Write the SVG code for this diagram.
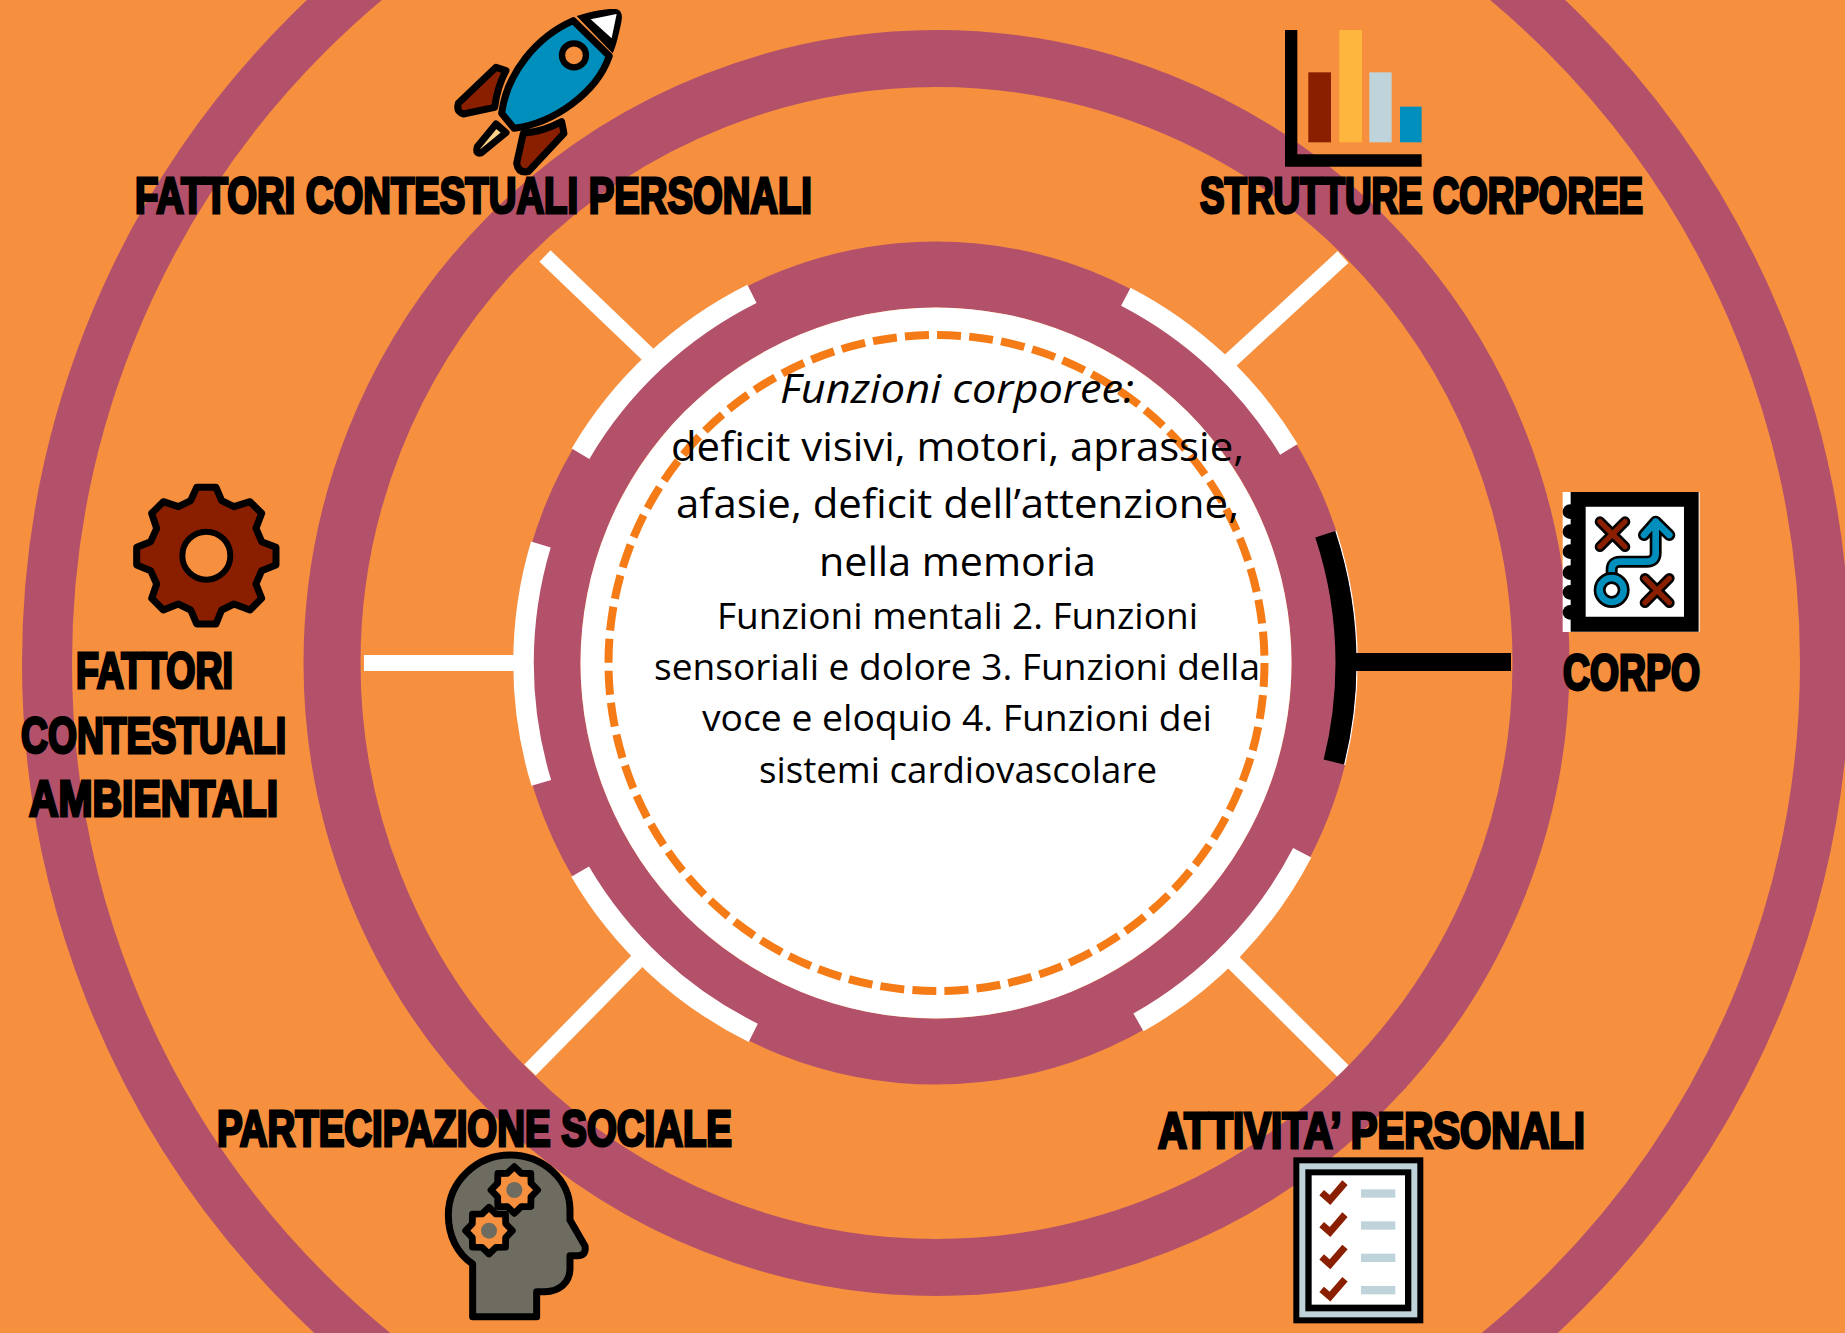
<svg xmlns="http://www.w3.org/2000/svg" xmlns:xlink="http://www.w3.org/1999/xlink" width="1845" height="1333" viewBox="0 0 1845 1333">
<style>
.ring{fill:none;stroke:#B3516B}
.arc{fill:none;stroke:#fff;stroke-width:20.5}
.spoke{stroke:#fff;stroke-width:16;fill:none}
.lab{font-family:"Liberation Sans",Arial,sans-serif;font-weight:700;font-size:50px;fill:#000;stroke:#000;stroke-width:3px}
.t1{font-family:"Open Sans","Liberation Sans",sans-serif;font-size:41px;fill:#000}
.t2{font-family:"Open Sans","Liberation Sans",sans-serif;font-size:36px;fill:#000}
.ol{stroke:#000;stroke-width:21;stroke-linejoin:round;stroke-linecap:round}
.red{fill:#8A1F00}
.blue{fill:#008FBD}
.pale{fill:#BFD3DA}
</style>
<defs>
<polygon id="minigear" points="62,0 44.3,18.4 43.8,43.8 18.4,44.3 0,62 -18.4,44.3 -43.8,43.8 -44.3,18.4 -62,0 -44.3,-18.4 -43.8,-43.8 -18.4,-44.3 0,-62 18.4,-44.3 43.8,-43.8 44.3,-18.4" fill="#F6903F" stroke="#000" stroke-width="18" stroke-linejoin="round"/>
<g id="check"><path d="M125 158L150 180L195 128" fill="none" stroke="#8A1F00" stroke-width="21"/><rect x="243" y="148" width="103" height="25" class="pale"/></g>
</defs>
<rect id="background" width="1845" height="1333" fill="#F6903F"/>
<g id="connectors">
<path class="spoke" d="M545 256L660 366"/>
<path class="spoke" d="M1343 257L1220 370"/>
<path class="spoke" d="M530 1070L650 948"/>
<path class="spoke" d="M1343 1071L1222 951"/>
<path class="spoke" d="M364 663L530 663"/>
</g>
<g id="rings">
<circle class="ring" cx="936" cy="663" r="889" stroke-width="50"/>
<circle class="ring" cx="936.5" cy="663" r="604.5" stroke-width="57"/>
<circle class="ring" cx="936" cy="663" r="388.5" stroke-width="66"/>
<g id="arcs">
<circle class="arc" cx="936" cy="663" r="412.5" pathLength="360" stroke-dasharray="33 327" stroke-dashoffset="-210.5"/>
<circle class="arc" cx="936" cy="663" r="412.5" pathLength="360" stroke-dasharray="31.4 328.6" stroke-dashoffset="-297.4"/>
<circle class="arc" cx="936" cy="663" r="412.5" pathLength="360" stroke-dasharray="33.6 326.4" stroke-dashoffset="-163.1"/>
<circle class="arc" cx="936" cy="663" r="412.5" pathLength="360" stroke-dasharray="33.3 326.7" stroke-dashoffset="-116.3"/>
<circle class="arc" cx="936" cy="663" r="412.5" pathLength="360" stroke-dasharray="33.2 326.8" stroke-dashoffset="-27.4"/>
<circle cx="936" cy="663" r="421" fill="none" stroke="#fff" stroke-width="1.5" pathLength="360" stroke-dasharray="32.3 327.7" stroke-dashoffset="-341.7"/>
<circle cx="936" cy="663" r="410" fill="none" stroke="#000" stroke-width="21" pathLength="360" stroke-dasharray="32.3 327.7" stroke-dashoffset="-341.7"/>
</g>
</g>
<g id="connector-corpo">
<path d="M1356 662L1511 662" stroke="#000" stroke-width="18" fill="none"/>
</g>
<g id="center">
<circle cx="936" cy="663" r="355.5" fill="#fff"/>
<circle cx="936.5" cy="663" r="328" fill="none" stroke="#F47B16" stroke-width="8" stroke-dasharray="24 8.2"/>
<text class="t1" x="780" y="403" font-style="italic" textLength="354" lengthAdjust="spacingAndGlyphs">Funzioni corporee:</text>
<text class="t1" x="671" y="461" textLength="573" lengthAdjust="spacingAndGlyphs">deficit visivi, motori, aprassie,</text>
<text class="t1" x="676" y="518" textLength="563" lengthAdjust="spacingAndGlyphs">afasie, deficit dell’attenzione,</text>
<text class="t1" x="819" y="576" textLength="277" lengthAdjust="spacingAndGlyphs">nella memoria</text>
<text class="t2" x="717" y="629" textLength="481" lengthAdjust="spacingAndGlyphs">Funzioni mentali 2. Funzioni</text>
<text class="t2" x="654" y="680" textLength="606" lengthAdjust="spacingAndGlyphs">sensoriali e dolore 3. Funzioni della</text>
<text class="t2" x="702" y="731" textLength="510" lengthAdjust="spacingAndGlyphs">voce e eloquio 4. Funzioni dei</text>
<text class="t2" x="759" y="783" textLength="398" lengthAdjust="spacingAndGlyphs">sistemi cardiovascolare</text>
</g>
<g id="node-personali">
<g transform="translate(420,0) scale(.3333)">
<path class="ol red" d="M228 202L258 212Q232 260 224 322L130 342Q108 335 115 310Z"/>
<path class="ol red" d="M425 365L432 400L325 515Q295 520 290 490L310 400Q370 395 425 365Z"/>
<path class="ol" fill="#FFD28A" d="M228 372L258 398L185 458Q165 465 172 440Z"/>
<path class="ol blue" d="M460 62C350 110 260 220 245 340L282 385C400 370 530 280 568 168Z"/>
<path d="M470 48C520 32 570 24 592 28C612 36 606 62 600 85C594 112 588 140 578 160Z" fill="#000"/>
<path d="M512 58L590 42L575 115Z" fill="#fff"/>
<circle cx="462" cy="166" r="36" fill="#F6903F" stroke="#000" stroke-width="19"/>
</g>
<text class="lab" x="135" y="213" textLength="677" lengthAdjust="spacingAndGlyphs">FATTORI CONTESTUALI PERSONALI</text>
</g>
<g id="node-strutture">
<g transform="translate(1260,10) scale(.3333)">
<path d="M75 60H112V433H485V470H75Z" fill="#000"/>
<rect class="red" x="145" y="187" width="68" height="210"/>
<rect x="238" y="60" width="68" height="337" fill="#FFB63E"/>
<rect class="pale" x="328" y="187" width="67" height="210"/>
<rect class="blue" x="420" y="290" width="65" height="107"/>
</g>
<text class="lab" x="1200" y="213" textLength="443" lengthAdjust="spacingAndGlyphs">STRUTTURE CORPOREE</text>
</g>
<g id="node-corpo">
<g transform="translate(1540,480) scale(.3333)">
<rect x="68" y="36" width="411" height="420" fill="#fff"/>
<path d="M92 36H476V455H92ZM137 80V410H432V80Z" fill="#000" fill-rule="evenodd"/>
<g fill="#000"><circle cx="90" cy="95" r="22"/><circle cx="90" cy="155" r="22"/><circle cx="90" cy="215" r="22"/><circle cx="90" cy="278" r="22"/><circle cx="90" cy="337" r="22"/><circle cx="90" cy="397" r="22"/></g>
<g fill="none" stroke-linecap="round" stroke-linejoin="round">
<path d="M180 125L255 200M255 125L180 200M315 295L388 368M388 295L315 368" stroke="#000" stroke-width="32"/>
<path d="M180 125L255 200M255 125L180 200M315 295L388 368M388 295L315 368" stroke="#8A1F00" stroke-width="16"/>
<path d="M215 285V270Q215 245 240 245H320Q347 245 347 220V125M312 165L347 125L388 165" stroke="#000" stroke-width="36"/>
<path d="M215 285V270Q215 245 240 245H320Q347 245 347 220V125M312 165L347 125L388 165" stroke="#008FBD" stroke-width="20"/>
<circle cx="215" cy="330" r="36" fill="#fff" stroke="#000" stroke-width="36"/>
<circle cx="215" cy="330" r="36" stroke="#008FBD" stroke-width="20"/>
</g>
</g>
<text class="lab" x="1563" y="690" textLength="137" lengthAdjust="spacingAndGlyphs">CORPO</text>
</g>
<g id="node-ambientali">
<g transform="translate(120,470) scale(.3333)">
<polygon class="ol red" points="230,52 288,52 305,92 342,110 390,95 425,130 408,175 425,215 468,232 468,285 425,302 408,342 425,385 390,420 342,402 305,420 288,462 230,462 212,420 175,402 130,420 95,385 110,342 92,302 50,285 50,232 92,215 110,175 95,130 130,95 175,110 212,92"/>
<circle cx="259" cy="257" r="72" fill="#F6903F" stroke="#000" stroke-width="18"/>
</g>
<text class="lab" x="76" y="688" textLength="157" lengthAdjust="spacingAndGlyphs">FATTORI</text>
<text class="lab" x="21" y="753" textLength="265" lengthAdjust="spacingAndGlyphs">CONTESTUALI</text>
<text class="lab" x="29" y="816" textLength="249" lengthAdjust="spacingAndGlyphs">AMBIENTALI</text>
</g>
<g id="node-partecipazione">
<text class="lab" x="217" y="1146" textLength="515" lengthAdjust="spacingAndGlyphs">PARTECIPAZIONE SOCIALE</text>
<g transform="translate(430,1140) scale(.3333)">
<path class="ol" fill="#6E6C60" d="M128 530V372C80 340 55 285 55 225C55 125 140 45 240 45C340 45 420 120 420 210V240L465 318Q470 345 445 347H420V385C420 430 385 455 345 455H320V530Z"/>
<use xlink:href="#minigear" href="#minigear" transform="translate(253 150) scale(1.13)"/>
<use xlink:href="#minigear" href="#minigear" transform="translate(177 272) scale(1.13)"/>
<circle cx="253" cy="150" r="24" fill="#6E6C60"/>
<circle cx="177" cy="272" r="24" fill="#6E6C60"/>
</g>
</g>
<g id="node-attivita">
<text class="lab" x="1158" y="1148" textLength="427" lengthAdjust="spacingAndGlyphs">ATTIVITA’ PERSONALI</text>
<g transform="translate(1280,1140) scale(.3333)">
<rect x="40" y="52" width="390" height="498" fill="#000"/>
<rect class="pale" x="58" y="70" width="354" height="462"/>
<rect x="76" y="88" width="318" height="426" fill="#000"/>
<rect x="95" y="106" width="280" height="388" fill="#fff"/>
<use xlink:href="#check" href="#check"/>
<use xlink:href="#check" href="#check" y="96"/>
<use xlink:href="#check" href="#check" y="193"/>
<use xlink:href="#check" href="#check" y="290"/>
</g>
</g>
</svg>
